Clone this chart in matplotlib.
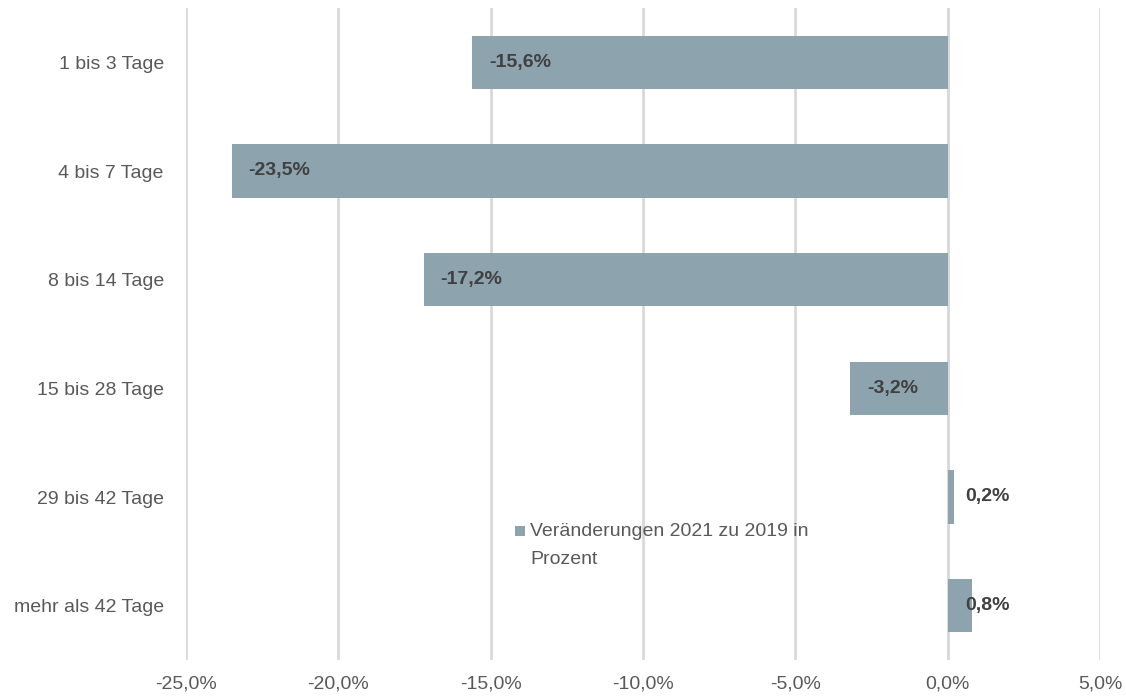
import matplotlib
matplotlib.use("Agg")
import matplotlib.pyplot as plt
from matplotlib.patches import Rectangle

categories = ["1 bis 3 Tage", "4 bis 7 Tage", "8 bis 14 Tage", "15 bis 28 Tage",
              "29 bis 42 Tage", "mehr als 42 Tage"]
values = [-15.6, -23.5, -17.2, -3.2, 0.2, 0.8]
xticks = [-25, -20, -15, -10, -5, 0, 5]
legend_label = "Veränderungen 2021 zu 2019 in\nProzent"

fam = ["Liberation Sans Narrow", "Liberation Sans", "DejaVu Sans"]
plt.rcParams["font.family"] = fam

bar_color = "#8DA3AE"
grid_color = "#D9D9D9"
tick_color = "#595959"
label_color = "#404040"

fig = plt.figure(figsize=(11.26, 7.0), dpi=100)
ax = fig.add_axes([186/1126, 1-660/700, (1100-186)/1126, (660-8)/700])

y = list(range(len(categories)))
ax.barh(y, values, height=0.49, color=bar_color, zorder=3)
ax.set_ylim(len(categories)-0.5, -0.5)
ax.set_xlim(-25, 5)
ax.set_xticks(xticks)
ax.set_xticklabels([f"{t:.1f}%".replace(".", ",") for t in xticks], fontsize=14, color=tick_color)
ax.set_yticks(y)
ax.set_yticklabels(categories, fontsize=14, color=tick_color)
ax.tick_params(axis="both", length=0)
ax.tick_params(axis="x", pad=11)
ax.tick_params(axis="y", pad=16)
for s in ax.spines.values():
    s.set_visible(False)
ax.grid(axis="x", color=grid_color, linewidth=2, zorder=0)
ax.axvline(0, color=grid_color, linewidth=2, zorder=2)

for yi, v in zip(y, values):
    txt = f"{v:.1f}%".replace(".", ",")
    if v < 0:
        ax.annotate(txt, (v, yi), xytext=(12, 0), textcoords="offset points",
                    ha="left", va="center", fontsize=14, fontweight="bold", color=label_color, zorder=4)
    else:
        ax.annotate(txt, (0, yi), xytext=(12.5, 0), textcoords="offset points",
                    ha="left", va="center", fontsize=14, fontweight="bold", color=label_color, zorder=4)

# legend
lx, ly = 515/1126, 1-531/700
fig.patches.append(Rectangle((lx, ly-5/700), 10/1126, 10/700, transform=fig.transFigure,
                             facecolor=bar_color, edgecolor="none"))
fig.text(lx+15/1126, 1-523/700, legend_label, fontsize=14, color=tick_color,
         va="top", ha="left", linespacing=1.85)

fig.savefig("out.png", dpi=100)
